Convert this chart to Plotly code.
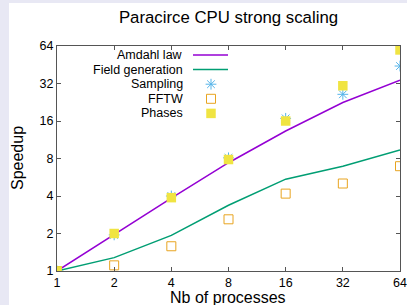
import plotly.graph_objects as go

procs = [1, 2, 4, 8, 16, 32, 64]
amdahl = [1, 1.97, 3.85, 7.4, 13.3, 22.5, 34]
field_gen = [1, 1.28, 1.93, 3.37, 5.46, 6.94, 9.35]
sampling = [1, 1.95, 4.0, 8.1, 16.8, 26.2, 44.2]
fftw = [1, 1.11, 1.58, 2.6, 4.18, 5.04, 6.94]
phases = [1, 2.0, 3.88, 7.85, 16.0, 30.7, 59.5]
tick_vals = [1, 2, 4, 8, 16, 32, 64]
tick_text = ["1", "2", "4", "8", "16", "32", "64"]
legend_names = ["Amdahl law", "Field generation", "Sampling", "FFTW", "Phases"]

C_AMD = "#9400d3"
C_FIELD = "#009e73"
C_SAMP = "#56b4e9"
C_FFTW = "#e8a420"
C_PHASE = "#f0e442"

W, H = 407, 305
L, R, T, B = 57, 7, 46, 34

fig = go.Figure()
fig.add_trace(go.Scatter(x=procs, y=amdahl, mode="lines", line=dict(color=C_AMD, width=1.5), showlegend=False))
fig.add_trace(go.Scatter(x=procs, y=field_gen, mode="lines", line=dict(color=C_FIELD, width=1.5), showlegend=False))
fig.add_trace(go.Scatter(x=procs, y=fftw, mode="markers",
                         marker=dict(symbol="square-open", size=9, color=C_FFTW, line=dict(width=1, color=C_FFTW)), showlegend=False))
fig.add_trace(go.Scatter(x=procs, y=sampling, mode="markers",
                         marker=dict(symbol="asterisk-open", size=9, color=C_SAMP, line=dict(width=1, color=C_SAMP)), showlegend=False))
fig.add_trace(go.Scatter(x=procs, y=phases, mode="markers",
                         marker=dict(symbol="square", size=9.5, color=C_PHASE, line=dict(width=0)), showlegend=False))

# custom gnuplot-style key (text right, sample on the right)
pw, ph = W - L - R, H - T - B
def px(x):
    return (x - L) / pw
def py(y):
    return (H - B - y) / ph

key_y = [55, 69.6, 84.2, 98.8, 113.4]
for name, yy in zip(legend_names, key_y):
    fig.add_annotation(text=name, xref="paper", yref="paper", x=px(185), y=py(yy),
                       xanchor="right", yanchor="middle", showarrow=False,
                       font=dict(size=12.5, color="black"))
fig.add_shape(type="line", xref="paper", yref="paper", x0=px(193), x1=px(228), y0=py(key_y[0]), y1=py(key_y[0]),
              line=dict(color=C_AMD, width=1.5))
fig.add_shape(type="line", xref="paper", yref="paper", x0=px(193), x1=px(228), y0=py(key_y[1]), y1=py(key_y[1]),
              line=dict(color=C_FIELD, width=1.5))
fig.add_trace(go.Scatter(x=[px(211)], y=[py(key_y[2])], xaxis="x2", yaxis="y2", mode="markers",
                         marker=dict(symbol="asterisk-open", size=9, color=C_SAMP, line=dict(width=1, color=C_SAMP)), showlegend=False))
fig.add_trace(go.Scatter(x=[px(211)], y=[py(key_y[3])], xaxis="x2", yaxis="y2", mode="markers",
                         marker=dict(symbol="square-open", size=9, color=C_FFTW, line=dict(width=1, color=C_FFTW)), showlegend=False))
fig.add_trace(go.Scatter(x=[px(211)], y=[py(key_y[4])], xaxis="x2", yaxis="y2", mode="markers",
                         marker=dict(symbol="square", size=9.5, color=C_PHASE, line=dict(width=0)), showlegend=False))

# lavender window border strips
fig.add_shape(type="rect", xref="paper", yref="paper", x0=px(0), x1=px(9), y0=py(H), y1=py(0),
              fillcolor="#e8e8f4", line=dict(width=0), layer="below")
fig.add_shape(type="rect", xref="paper", yref="paper", x0=px(0), x1=px(W), y0=py(3), y1=py(0),
              fillcolor="#e8e8f4", line=dict(width=0), layer="below")

fig.add_annotation(text="Speedup", xref="paper", yref="paper", x=px(17), y=py(158), textangle=-90,
                   xanchor="center", yanchor="middle", showarrow=False, font=dict(size=16, color="black"))
fig.add_annotation(text="Nb of processes", xref="paper", yref="paper", x=px(228), y=py(297),
                   xanchor="center", yanchor="middle", showarrow=False, font=dict(size=16, color="black"))

axis_common = dict(showline=True, linecolor="#555555", linewidth=1, mirror="allticks", ticks="inside",
                   ticklen=4, tickcolor="#555555", showgrid=False, zeroline=False, automargin=False,
                   tickfont=dict(size=12.5, color="black"), tickvals=tick_vals, ticktext=tick_text)
fig.update_layout(
    width=W, height=H,
    margin=dict(l=L, r=R, t=T, b=B, autoexpand=False),
    paper_bgcolor="white", plot_bgcolor="white",
    font=dict(family="Liberation Sans, Arial, sans-serif", color="black"),
    title=dict(text="Paracirce CPU strong scaling", x=0.5, xref="paper", y=1 - 17 / H, yanchor="middle",
               font=dict(size=16.8, color="black")),
    xaxis=dict(type="log", range=[0, 1.80618], **axis_common),
    yaxis=dict(type="log", range=[0, 1.80618], **axis_common),
    xaxis2=dict(overlaying="x", range=[0, 1], visible=False),
    yaxis2=dict(overlaying="y", range=[0, 1], visible=False),
    showlegend=False,
    hovermode=False,
)
fig.write_html("out.html", config={"displayModeBar": False, "staticPlot": True},
               post_script="document.body.style.margin='0';document.body.style.overflow='hidden';")
